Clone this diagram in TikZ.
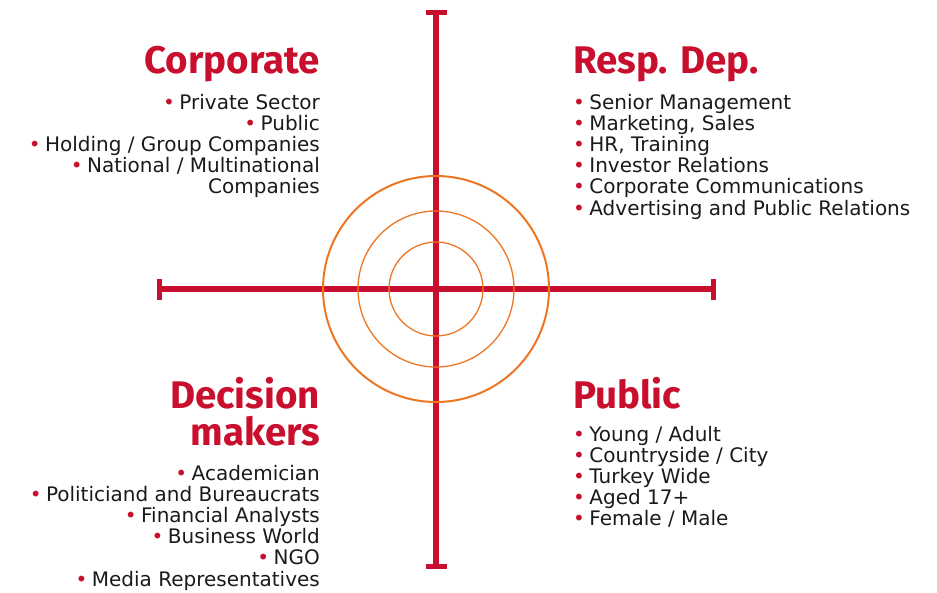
\documentclass[tikz,border=0pt]{standalone}
\usepackage{fontspec}
\setmainfont{DejaVu Sans}
\newfontfamily\headfont{Fira Sans}
\usetikzlibrary{calc}
\definecolor{crimson}{HTML}{C8102E}
\definecolor{ringorange}{HTML}{EE7623}
\definecolor{ink}{HTML}{1A1A1A}
\newcommand{\itm}{\textcolor{crimson}{\textbullet}\hspace{0.22em}}
\tikzstyle{axis} = [line width=5.5pt,color=crimson]
\tikzstyle{endbar} = [line width=5pt,color=crimson]
\tikzstyle{ring} = [draw=ringorange, line width=1.3pt]
\tikzstyle{heading} = [font=\headfont\fontsize{38.5}{37}\selectfont\bfseries, text=crimson, inner sep=0pt]
\tikzstyle{items} = [font=\fontsize{20}{21.2}\selectfont, text=ink, inner sep=0pt]

\begin{document}
\begin{tikzpicture}[x=1pt,y=-1pt]
    \useasboundingbox (0,0) rectangle (937,592);

    % axes
    \coordinate (centre) at (436,289);
    \coordinate (top) at (436,12);
    \coordinate (bottom) at (436,566.5);
    \coordinate (left) at (159,289);
    \coordinate (right) at (713.5,289);

    \draw [axis] (top) -- (bottom);
    \draw [axis] (left) -- (right);
    \draw [endbar] ([xshift=-10.5pt]top) -- ([xshift=10.5pt]top);
    \draw [endbar] ([xshift=-10.5pt]bottom) -- ([xshift=10.5pt]bottom);
    \draw [endbar] ([yshift=-10.5pt]left) -- ([yshift=10.5pt]left);
    \draw [endbar] ([yshift=-10.5pt]right) -- ([yshift=10.5pt]right);

    % rings
    \draw [ring, line width=2pt] (centre) circle [radius=113pt];
    \draw [ring] (centre) circle [radius=78pt];
    \draw [ring] (centre) circle [radius=47pt];

    % top left (base anchor = last line)
    \node (corporate) [heading, anchor=base east] at (320,73) {Corporate};
    \node (corporateList) [items, align=right, anchor=base east] at (320,193.8)
        {\itm Private Sector\\ \itm Public\\ \itm Holding / Group Companies\\
         \itm National / Multinational\\ Companies};

    % top right
    \node (respDep) [heading, anchor=base west] at (573,73) {Resp. Dep.};
    \node (respDepList) [items, align=left, anchor=base west] at (573,215)
        {\itm Senior Management\\ \itm Marketing, Sales\\ \itm HR, Training\\
         \itm Investor Relations\\ \itm Corporate Communications\\
         \itm Advertising and Public Relations};

    % bottom left
    \node (decision) [heading, align=right, anchor=base east] at (320,445) {Decision\\makers};
    \node (decisionList) [items, align=right, anchor=base east] at (320,586)
        {\itm Academician\\ \itm Politiciand and Bureaucrats\\ \itm Financial Analysts\\
         \itm Business World\\ \itm NGO\\ \itm Media Representatives};

    % bottom right
    \node (public) [heading, anchor=base west] at (573,408) {Public};
    \node (publicList) [items, align=left, anchor=base west] at (573,525.8)
        {\itm Young / Adult\\ \itm Countryside / City\\ \itm Turkey Wide\\
         \itm Aged 17+\\ \itm Female / Male};
\end{tikzpicture}
\end{document}
